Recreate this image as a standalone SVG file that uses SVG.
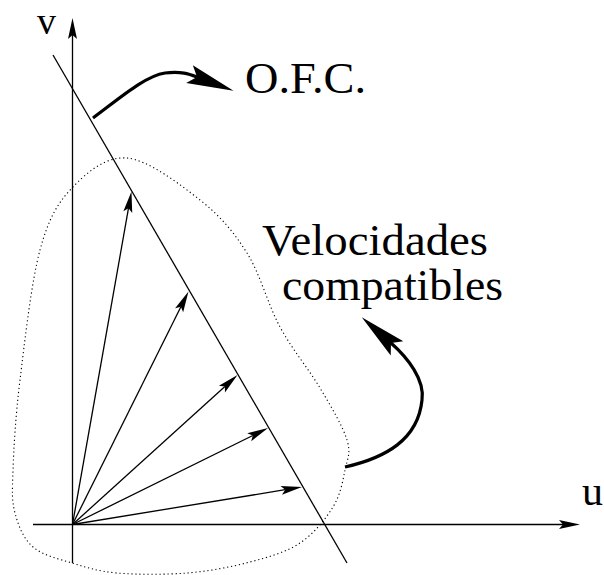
<svg xmlns="http://www.w3.org/2000/svg" width="604" height="575" viewBox="0 0 604 575">
<style>
.ln{fill:none;stroke:#000;stroke-width:1.3}
.thick{fill:none;stroke:#000;stroke-width:3.2}
.dot{fill:none;stroke:#000;stroke-width:1.1;stroke-dasharray:1.2 2.8}
.t{font-family:"Liberation Serif","Times New Roman",serif;fill:#000}
</style>
<defs>
<marker id="sm" markerUnits="userSpaceOnUse" viewBox="-6 -6 25 12" markerWidth="25" markerHeight="12" refX="0" refY="0" orient="auto">
<path d="M17,0 L-4,-4.5 L0,0 L-4,4.5 Z" fill="#000"/>
</marker>
<marker id="big" markerUnits="userSpaceOnUse" viewBox="-10 -12 52 24" markerWidth="52" markerHeight="24" refX="0" refY="0" orient="auto">
<path d="M39,0 L-8,-9.5 L0,0 L-8,9.5 Z" fill="#000"/>
</marker>
</defs>
<g id="region">
<path class="dot" d="M127,158 C148.3,160 180,184.2 200,200 C220,215.8 233.7,231.8 247,253 C260.3,274.2 267.8,304.5 280,327 C292.2,349.5 308.8,369.2 320,388 C331.2,406.8 342.8,426.3 347,440 C351.2,453.7 347.3,458.8 345,470 C342.7,481.2 340.5,494.8 333,507 C325.5,519.2 313.8,533.8 300,543 C286.2,552.2 268.8,557 250,562 C231.2,567 209.2,571.2 187,573 C164.8,574.8 136.2,574.7 117,573 C97.8,571.3 86,567.3 72,563 C58,558.7 42.5,555.3 33,547 C23.5,538.7 18.3,525.8 15,513 C11.7,500.2 12.2,492.2 13,470 C13.8,447.8 15.5,416.7 20,380 C24.5,343.3 31.3,282 40,250 C48.7,218 57.5,203.3 72,188 C86.5,172.7 105.7,156 127,158 Z"/>
</g>
<g id="axes">
<line class="ln" x1="33" y1="524.5" x2="563" y2="524.5" marker-end="url(#sm)"/>
<line class="ln" x1="72.5" y1="563" x2="72.5" y2="35" marker-end="url(#sm)"/>
</g>
<g id="ofc-line">
<line class="ln" x1="53" y1="55" x2="347" y2="563"/>
</g>
<g id="connectors">
<line class="ln" x1="72.5" y1="524.5" x2="128.5" y2="208.2" marker-end="url(#sm)"/>
<line class="ln" x1="72.5" y1="524.5" x2="180.9" y2="306.7" marker-end="url(#sm)"/>
<line class="ln" x1="72.5" y1="524.5" x2="224.9" y2="386.4" marker-end="url(#sm)"/>
<line class="ln" x1="72.5" y1="524.5" x2="252.8" y2="435.5" marker-end="url(#sm)"/>
<line class="ln" x1="72.5" y1="524.5" x2="285.2" y2="489.7" marker-end="url(#sm)"/>
<path class="thick" d="M93,118 C120,98 145,76 165,73 C181,71 189,74 197,77" marker-end="url(#big)"/>
<path class="thick" d="M345,467 C385,458 418,440 422,400 C425,380 408,358 391,343" marker-end="url(#big)"/>
</g>
<g id="labels">
<text class="t" x="37" y="34" font-size="38">v</text>
<text class="t" x="582" y="505" font-size="42">u</text>
<text class="t" x="245" y="93" font-size="44" textLength="121" lengthAdjust="spacingAndGlyphs">O.F.C.</text>
<text class="t" x="262" y="255" font-size="44" textLength="226" lengthAdjust="spacingAndGlyphs">Velocidades</text>
<text class="t" x="282" y="300" font-size="44" textLength="221" lengthAdjust="spacingAndGlyphs">compatibles</text>
</g>
</svg>
